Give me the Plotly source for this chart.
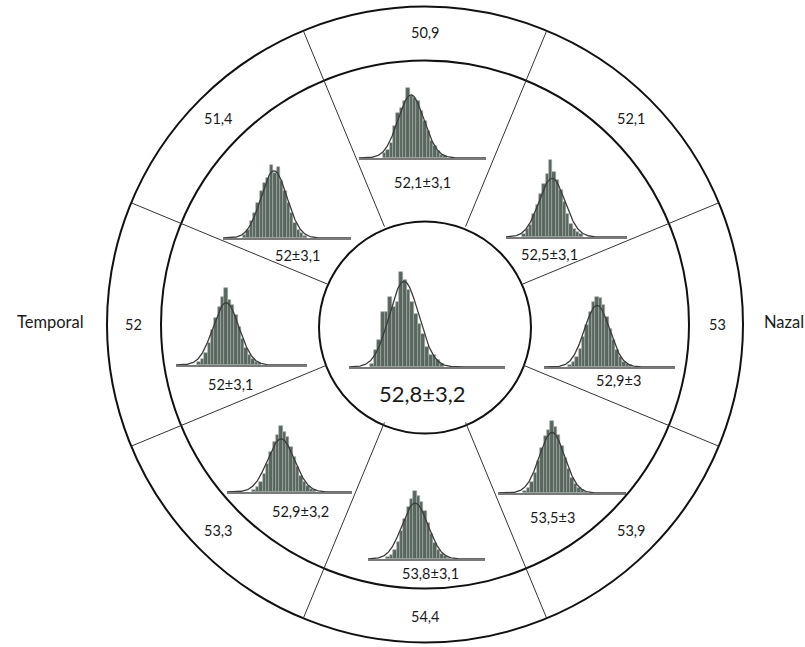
import numpy as np
import plotly.graph_objects as go

# ---------------------------------------------------------------
# Data (sectors listed clockwise, starting with the top sector)
# ---------------------------------------------------------------
sector_names = ["superior", "supero-nazal", "nazal", "infero-nazal",
                "inferior", "infero-temporal", "temporal", "supero-temporal"]
outer_values = [50.9, 52.1, 53.0, 53.9, 54.4, 53.3, 52.0, 51.4]
inner_means = [52.1, 52.5, 52.9, 53.5, 53.8, 52.9, 52.0, 52.0]
inner_sds = [3.1, 3.1, 3.0, 3.0, 3.1, 3.2, 3.1, 3.1]
center_mean = 52.8
center_sd = 3.2

BIN_WIDTH = 0.8
# histogram counts for each sector (first bin edge in hist_starts)
hist_superior = [5, 8, 15, 32, 45, 50, 57, 70, 62, 60, 57, 47, 37, 27, 17, 12, 7, 3, 2]
hist_supero_nazal = [3, 8, 12, 23, 32, 43, 53, 63, 77, 65, 57, 47, 35, 23, 13, 8, 5, 3]
hist_nazal = [2, 5, 10, 18, 30, 42, 55, 65, 70, 69, 62, 50, 38, 27, 17, 10, 5, 3, 2]
hist_infero_nazal = [2, 5, 11, 20, 32, 45, 57, 63, 72, 66, 58, 47, 35, 24, 15, 9, 5, 3, 1]
hist_inferior = [2, 4, 9, 17, 28, 40, 52, 60, 68, 63, 57, 48, 36, 25, 16, 9, 5, 3, 1]
hist_infero_temporal = [2, 5, 10, 18, 28, 40, 50, 57, 66, 60, 55, 45, 35, 25, 16, 10, 6, 3, 2]
hist_temporal = [3, 6, 12, 22, 35, 47, 58, 68, 77, 65, 60, 50, 38, 26, 17, 10, 6, 3, 2]
hist_supero_temporal = [3, 8, 17, 25, 35, 47, 55, 60, 73, 65, 71, 57, 47, 35, 25, 15, 8, 5, 2]
hist_center = [3, 17, 27, 55, 55, 70, 60, 65, 95, 87, 77, 65, 53, 43, 33, 20, 12, 12, 7, 3]

hist_counts = [hist_superior, hist_supero_nazal, hist_nazal, hist_infero_nazal,
               hist_inferior, hist_infero_temporal, hist_temporal, hist_supero_temporal]
hist_starts = [45.4, 45.4, 46.1, 46.7, 47.0, 46.1, 45.2, 44.6]
center_start = 45.4

side_labels = ["Temporal", "Nazal"]

# ---------------------------------------------------------------
# Layout geometry (pixels)
# ---------------------------------------------------------------
W, H = 805, 647
CX, CY = 425, 324.5
R_OUT, R_MID = 318, 264
C_CX, C_CY, C_R = 425, 327.5, 106
R_LABEL = 292

# histogram boxes: left, right, baseline, x of curve peak, px per unit
hist_boxes = [
    (359, 486, 158, 411, 4.2),
    (506, 627, 237, 552, 4.2),
    (544, 675, 367, 597, 4.2),
    (498, 626, 493, 552, 4.2),
    (368, 485, 559, 415, 4.2),
    (227, 352, 492, 281, 4.2),
    (176, 307, 365, 226, 4.2),
    (223, 351, 238, 274, 4.2),
]
center_box = (349, 505, 367, 404, 4.6)
hist_label_pos = [(422, 182), (549, 254), (618, 380), (552, 517),
                  (430, 573), (300, 511), (230, 384), (297, 255)]
center_label_pos = (422, 393)
HIST_H = 110

FONT = "Lato, 'Open Sans', sans-serif"
TXT = "#1a1a1a"
BAR_FILL = "#59665e"
BAR_EDGE = "#a3aea7"
CURVE = "#3c3c3c"
BASE = "#7a7a7a"


def fmt(v):
    s = f"{v:.1f}"
    if s.endswith(".0"):
        s = s[:-2]
    return s.replace(".", ",")


fig = go.Figure()
# invisible anchor trace for the drawing axes
fig.add_trace(go.Scatter(x=[0, W], y=[0, H], mode="markers",
                         marker=dict(opacity=0), hoverinfo="skip",
                         showlegend=False, xaxis="x", yaxis="y"))

shapes = []
for r, cy in [(R_OUT, CY), (R_MID, CY)]:
    shapes.append(dict(type="circle", xref="x", yref="y",
                       x0=CX - r, x1=CX + r, y0=cy - r, y1=cy + r,
                       line=dict(color="#111111", width=2)))
shapes.append(dict(type="circle", xref="x", yref="y",
                   x0=C_CX - C_R, x1=C_CX + C_R, y0=C_CY - C_R, y1=C_CY + C_R,
                   line=dict(color="#111111", width=2)))
# sector dividers
for k in range(8):
    a = np.radians(22.5 + 45 * k)
    sx, sy = np.sin(a), -np.cos(a)
    shapes.append(dict(type="line", xref="x", yref="y",
                       x0=CX + C_R * sx, y0=CY + C_R * sy,
                       x1=CX + R_OUT * sx, y1=CY + R_OUT * sy,
                       line=dict(color="#333333", width=1)))

annotations = []
# outer ring values
for k, v in enumerate(outer_values):
    a = np.radians(45 * k)
    annotations.append(dict(x=CX + R_LABEL * np.sin(a), y=CY - R_LABEL * np.cos(a),
                            xref="x", yref="y", text=fmt(v), showarrow=False,
                            font=dict(family=FONT, size=14.5, color=TXT)))
# inner ring mean±sd
for (m, s), (lx, ly) in zip(zip(inner_means, inner_sds), hist_label_pos):
    annotations.append(dict(x=lx, y=ly, xref="x", yref="y",
                            text=f"{fmt(m)}±{fmt(s)}", showarrow=False,
                            font=dict(family=FONT, size=14.5, color=TXT)))
annotations.append(dict(x=center_label_pos[0], y=center_label_pos[1], xref="x", yref="y",
                        text=f"{fmt(center_mean)}±{fmt(center_sd)}", showarrow=False,
                        font=dict(family=FONT, size=22, color=TXT)))
annotations.append(dict(x=50, y=322, xref="x", yref="y", text=side_labels[0],
                        showarrow=False, font=dict(family=FONT, size=16.5, color=TXT)))
annotations.append(dict(x=784, y=322, xref="x", yref="y", text=side_labels[1],
                        showarrow=False, font=dict(family=FONT, size=16.5, color=TXT)))

layout_axes = {}
all_hists = list(zip(hist_counts, hist_starts, inner_means, inner_sds, hist_boxes))
all_hists.append((hist_center, center_start, center_mean, center_sd, center_box))

for i, (counts, start, mean, sd, box) in enumerate(all_hists):
    k = i + 2
    left, right, base, peak_x, ppu = box
    lo = mean - (peak_x - left) / ppu
    hi = mean + (right - peak_x) / ppu
    counts = np.asarray(counts, dtype=float)
    centers = start + BIN_WIDTH * (np.arange(len(counts)) + 0.5)
    fig.add_trace(go.Bar(x=centers, y=counts, width=BIN_WIDTH,
                         marker=dict(color=BAR_FILL, line=dict(color=BAR_EDGE, width=0.6)),
                         xaxis=f"x{k}", yaxis=f"y{k}", showlegend=False, hoverinfo="skip"))
    xs = np.linspace(lo, hi, 300)
    pdf = np.exp(-0.5 * ((xs - mean) / sd) ** 2) / (sd * np.sqrt(2 * np.pi))
    fig.add_trace(go.Scatter(x=xs, y=counts.sum() * BIN_WIDTH * pdf, mode="lines",
                             line=dict(color=CURVE, width=1.3),
                             xaxis=f"x{k}", yaxis=f"y{k}", showlegend=False, hoverinfo="skip"))
    layout_axes[f"xaxis{k}"] = dict(domain=[left / W, right / W], range=[lo, hi],
                                    anchor=f"y{k}", showline=True, linecolor=BASE,
                                    linewidth=1.5, showgrid=False, zeroline=False,
                                    showticklabels=False, ticks="")
    layout_axes[f"yaxis{k}"] = dict(domain=[(H - base) / H, (H - base + HIST_H) / H],
                                    range=[0, HIST_H], anchor=f"x{k}", visible=False)

fig.update_layout(
    width=W, height=H, margin=dict(l=0, r=0, t=0, b=0),
    paper_bgcolor="white", plot_bgcolor="rgba(0,0,0,0)",
    bargap=0, showlegend=False,
    xaxis=dict(range=[0, W], domain=[0, 1], visible=False),
    yaxis=dict(range=[H, 0], domain=[0, 1], visible=False),
    shapes=shapes, annotations=annotations,
    **layout_axes,
)

fig.write_html("out.html")
